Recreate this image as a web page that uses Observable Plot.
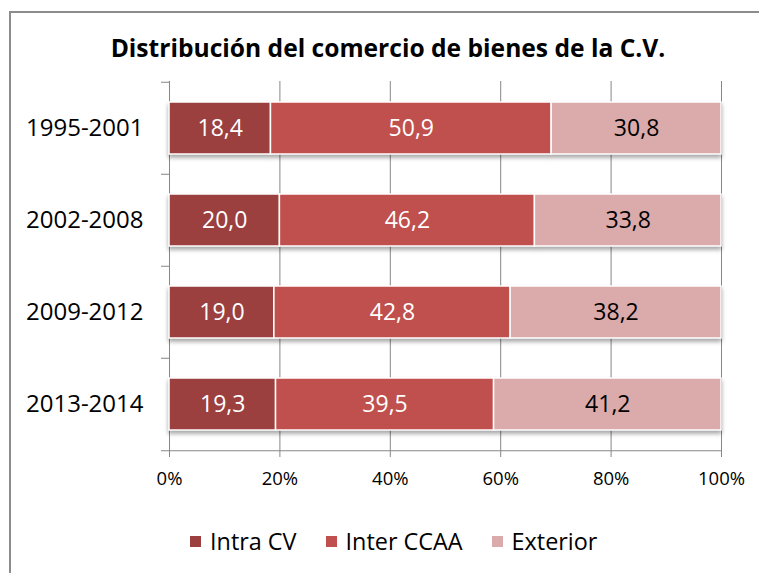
<!DOCTYPE html>
<html>
<head>
<meta charset="utf-8">
<script src="https://cdn.jsdelivr.net/npm/d3@7"></script>
<script src="https://cdn.jsdelivr.net/npm/@observablehq/plot@0.6"></script>
<style>
  html, body { margin: 0; padding: 0; background: #fff; overflow: hidden; }
  body { width: 759px; height: 573px; position: relative; font-family: "Open Sans", sans-serif; }
  #frame { position: absolute; left: 9px; top: 11px; width: 800px; height: 600px;
           border-left: 2px solid #8c8c8c; border-top: 2px solid #8c8c8c; }
  #title { position: absolute; left: 0; width: 776px; top: 31px; text-align: center;
           font-weight: 700; font-size: 24.6px; color: #000; white-space: nowrap; }
  #chart { position: absolute; left: 0; top: 0; }
  #chart g[aria-label="bar"] { filter: drop-shadow(0px 3px 2px rgba(0,0,0,0.35)); }
  #legend { position: absolute; top: 525px; left: 190px; display: flex; align-items: center;
            font-size: 23.4px; color: #000; white-space: nowrap; }
  .item { display: flex; align-items: center; margin-right: 29px; }
  .sw { width: 11px; height: 11px; margin-right: 9px; }
</style>
</head>
<body>
<div id="frame"></div>
<div id="title">Distribución del comercio de bienes de la C.V.</div>
<div id="chart"></div>
<div id="legend"></div>
<script>
const periods = ["1995-2001", "2002-2008", "2009-2012", "2013-2014"];
const intraCV = [18.4, 20.0, 19.0, 19.3];
const interCCAA = [50.9, 46.2, 42.8, 39.5];
const exterior = [30.8, 33.8, 38.2, 41.2];
const seriesNames = ["Intra CV", "Inter CCAA", "Exterior"];
const seriesColors = ["#9B3F3F", "#C0504D", "#DBAAAA"];
const xTicks = [0, 0.2, 0.4, 0.6, 0.8, 1];

const seriesValues = [intraCV, interCCAA, exterior];
const data = periods.flatMap((p, i) =>
  seriesNames.map((s, j) => ({period: p, series: s, value: seriesValues[j][i]})));

const fmt = v => d3.format(".1f")(v).replace(".", ",");
const gridColor = "#878787";
const font = "Open Sans, sans-serif";
const W = 759, H = 500, plotTop = 81, plotBottom = 451;
const half = (plotBottom - plotTop) / periods.length / 2;
const darkText = "Exterior";

const chart = Plot.plot({
  width: W,
  height: H,
  marginLeft: 169,
  marginRight: 38,
  marginTop: plotTop,
  marginBottom: H - plotBottom,
  style: {fontFamily: font, background: "transparent", overflow: "visible"},
  x: {domain: [0, 1], label: null},
  y: {domain: periods, paddingInner: 0.435, paddingOuter: 0.2175, label: null},
  color: {domain: seriesNames, range: seriesColors},
  marks: [
    Plot.gridX(xTicks, {stroke: gridColor, strokeOpacity: 1, strokeWidth: 1}),
    Plot.ruleX([0], {stroke: gridColor, strokeWidth: 1}),
    Plot.ruleY([periods[periods.length - 1]], {dy: half, stroke: gridColor, strokeWidth: 1}),
    Plot.axisY(periods, {tickSize: 8, tickFormat: () => "", dy: -half, stroke: gridColor, label: null}),
    Plot.axisY([periods[periods.length - 1]], {tickSize: 8, tickFormat: () => "", dy: half, stroke: gridColor, label: null}),
    Plot.axisY(periods, {tickSize: 0, tickPadding: 26, fontSize: 24, fill: "#000", label: null}),
    Plot.axisX(xTicks, {tickSize: 6, tickPadding: 14, tickFormat: d3.format(".0%"), fontSize: 18.5, fill: "#000", stroke: gridColor, label: null}),
    Plot.barX(data, Plot.stackX({offset: "normalize", x: "value", y: "period", fill: "series",
      stroke: "white", strokeWidth: 1.5})),
    Plot.text(data, Plot.stackX({offset: "normalize", x: "value", y: "period",
      text: d => d.series !== darkText ? fmt(d.value) : "", fill: "white", fontSize: 23})),
    Plot.text(data, Plot.stackX({offset: "normalize", x: "value", y: "period",
      text: d => d.series === darkText ? fmt(d.value) : "", fill: "black", fontSize: 23}))
  ]
});
document.getElementById("chart").appendChild(chart);

const legend = document.getElementById("legend");
seriesNames.forEach((s, i) => {
  const it = document.createElement("div");
  it.className = "item";
  it.innerHTML = `<span class="sw" style="background:${seriesColors[i]}"></span><span>${s}</span>`;
  legend.appendChild(it);
});
</script>
</body>
</html>
